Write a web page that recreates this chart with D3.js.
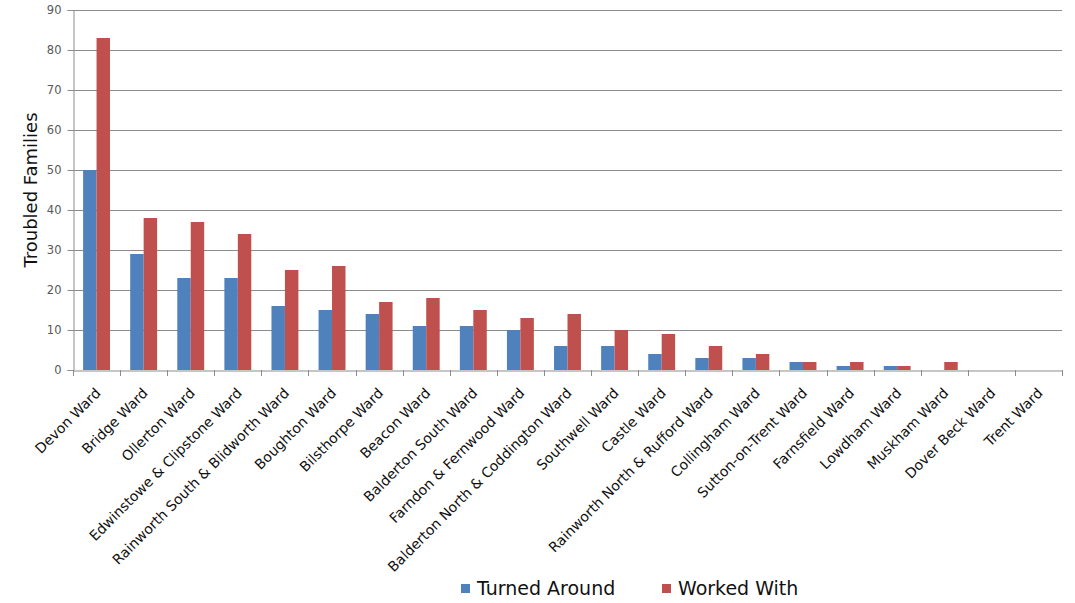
<!DOCTYPE html>
<html>
<head>
<meta charset="utf-8">
<script src="https://cdn.jsdelivr.net/npm/d3@7"></script>
<style>
  html, body { margin: 0; padding: 0; background: #fff; }
  svg { display: block; }
</style>
</head>
<body>
<svg id="chart" width="1075" height="603"></svg>
<script>
// Wards, ordered by number of families worked with
const wards = [
  "Devon Ward", "Bridge Ward", "Ollerton Ward", "Edwinstowe & Clipstone Ward",
  "Rainworth South & Blidworth Ward", "Boughton Ward", "Bilsthorpe Ward",
  "Beacon Ward", "Balderton South Ward", "Farndon & Fernwood Ward",
  "Balderton North & Coddington Ward", "Southwell Ward", "Castle Ward",
  "Rainworth North & Rufford Ward", "Collingham Ward", "Sutton-on-Trent Ward",
  "Farnsfield Ward", "Lowdham Ward", "Muskham Ward", "Dover Beck Ward", "Trent Ward"
];
const turnedAround = [50, 29, 23, 23, 16, 15, 14, 11, 11, 10, 6, 6, 4, 3, 3, 2, 1, 1, 0, 0, 0];
const workedWith   = [83, 38, 37, 34, 25, 26, 17, 18, 15, 13, 14, 10, 9, 6, 4, 2, 2, 1, 2, 0, 0];
const seriesNames  = ["Turned Around", "Worked With"];
const seriesColors = ["#4F81BD", "#C0504D"];
const yTicks = [0, 10, 20, 30, 40, 50, 60, 70, 80, 90];

const svg = d3.select("#chart");
const plot = { left: 73, right: 1062, top: 10, bottom: 370 };
const font = "Tahoma, 'DejaVu Sans', sans-serif";

const x = d3.scaleBand().domain(wards).range([plot.left, plot.right]).paddingInner(0).paddingOuter(0);
const inner = d3.scaleBand().domain(seriesNames).range([0, x.bandwidth()]).paddingInner(0).paddingOuter(0.75);
const y = d3.scaleLinear().domain([0, 90]).range([plot.bottom, plot.top]);

// Horizontal gridlines
svg.append("g")
  .selectAll("line")
  .data(yTicks.filter(t => t > 0))
  .join("line")
  .attr("x1", plot.left).attr("x2", plot.right)
  .attr("y1", d => y(d) + 0.5).attr("y2", d => y(d) + 0.5)
  .attr("stroke", "#8c8c8c").attr("stroke-width", 1);

// Bars
const rows = wards.map((w, i) => ({ ward: w, values: [turnedAround[i], workedWith[i]] }));
const groups = svg.append("g").selectAll("g")
  .data(rows).join("g")
  .attr("transform", d => `translate(${x(d.ward)},0)`);
groups.selectAll("rect")
  .data(d => d.values.map((v, k) => ({ name: seriesNames[k], value: v, k })))
  .join("rect")
  .attr("x", d => inner(d.name))
  .attr("width", inner.bandwidth())
  .attr("y", d => y(d.value))
  .attr("height", d => y(0) - y(d.value))
  .attr("fill", d => seriesColors[d.k]);

// Y axis
const yAxis = svg.append("g")
  .attr("transform", `translate(${plot.left + 0.5},0)`)
  .call(d3.axisLeft(y).tickValues(yTicks).tickSize(6).tickPadding(6));
yAxis.select(".domain").attr("stroke", "#8c8c8c");
yAxis.selectAll(".tick line").attr("stroke", "#8c8c8c");
yAxis.selectAll(".tick text")
  .attr("fill", "#595959").attr("font-family", font).attr("font-size", 11.5);

// X axis
const xAxis = svg.append("g")
  .attr("transform", `translate(0,${plot.bottom + 0.5})`)
  .call(d3.axisBottom(x).tickSize(0).tickFormat(""));
xAxis.select(".domain").attr("stroke", "#8c8c8c");
xAxis.selectAll(".tick").remove();

// Category boundary ticks
const bounds = wards.map(w => x(w)).concat([plot.right]);
svg.append("g").selectAll("line")
  .data(bounds).join("line")
  .attr("x1", d => Math.round(d) + 0.5).attr("x2", d => Math.round(d) + 0.5)
  .attr("y1", plot.bottom).attr("y2", plot.bottom + 6)
  .attr("stroke", "#8c8c8c");

// Rotated category labels
svg.append("g").selectAll("text")
  .data(wards).join("text")
  .attr("transform", d => `translate(${x(d) + x.bandwidth() / 2 + 5},${plot.bottom + 24}) rotate(-45)`)
  .attr("text-anchor", "end")
  .attr("font-family", font)
  .attr("font-size", 14)
  .attr("fill", "#111")
  .text(d => d);

// Y axis title
svg.append("text")
  .attr("transform", `translate(37,${(plot.top + plot.bottom) / 2}) rotate(-90)`)
  .attr("text-anchor", "middle")
  .attr("font-family", font)
  .attr("font-size", 18)
  .attr("fill", "#111")
  .text("Troubled Families");

// Legend
const legendItems = [{ x: 461 }, { x: 662 }];
const legend = svg.append("g").selectAll("g")
  .data(seriesNames).join("g")
  .attr("transform", (d, i) => `translate(${legendItems[i].x},584)`);
legend.append("rect")
  .attr("width", 9).attr("height", 9)
  .attr("fill", (d, i) => seriesColors[i]);
legend.append("text")
  .attr("x", 16).attr("y", 11)
  .attr("font-family", font)
  .attr("font-size", 19)
  .attr("fill", "#111")
  .text(d => d);
</script>
</body>
</html>
